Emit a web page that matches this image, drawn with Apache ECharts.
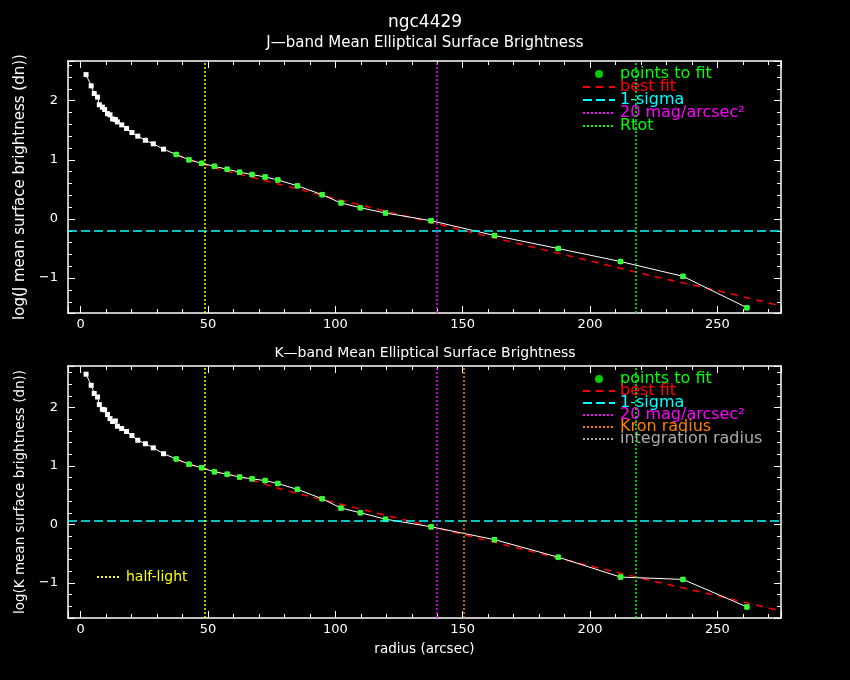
<!DOCTYPE html>
<html>
<head>
<meta charset="utf-8">
<script src="https://cdn.jsdelivr.net/npm/echarts@6/dist/echarts.min.js"></script>
<style>
  html, body { margin: 0; padding: 0; background: #000; }
  #chart { width: 850px; height: 680px; }
</style>
</head>
<body>
<div id="chart"></div>
<script>
// radii of the isophotes (arcsec), same for both bands
var radii = [2.1, 4.1, 5.3, 6.6, 7.3, 8.5, 9.4, 10.5, 11.5, 12.5, 13.6, 14.4, 16.1, 18.0, 20.1, 22.4, 25.4, 28.5, 32.5,
             37.5, 42.5, 47.5, 52.5, 57.5, 62.4, 67.3, 72.4, 77.4, 85.1, 94.8, 102.2, 109.8, 119.7, 137.6, 162.5, 187.5, 212.0, 236.5, 261.6];
var nInner = 19; // first points are not used in the fit

var jProfile = [2.44, 2.25, 2.12, 2.06, 1.93, 1.89, 1.85, 1.78, 1.76, 1.69, 1.68, 1.64, 1.59, 1.53, 1.46, 1.40, 1.33, 1.27, 1.18,
                1.09, 1.00, 0.94, 0.89, 0.84, 0.79, 0.75, 0.71, 0.66, 0.56, 0.41, 0.27, 0.19, 0.10, -0.03, -0.28, -0.50, -0.72, -0.97, -1.50];
var kProfile = [2.57, 2.38, 2.24, 2.18, 2.05, 1.97, 1.96, 1.88, 1.81, 1.76, 1.77, 1.68, 1.64, 1.59, 1.52, 1.44, 1.38, 1.31, 1.21,
                1.12, 1.03, 0.97, 0.90, 0.86, 0.81, 0.78, 0.75, 0.70, 0.60, 0.44, 0.28, 0.20, 0.09, -0.04, -0.26, -0.56, -0.90, -0.94, -1.41];

// best fit curves
var fitRadii = [37.5, 45, 55, 65, 75, 85, 100, 125, 150, 175, 200, 225, 250, 275];
var jFit = [1.08, 0.97, 0.83, 0.73, 0.62, 0.51, 0.34, 0.075, -0.19, -0.45, -0.71, -0.97, -1.21, -1.47];
var kFit = [1.11, 1.00, 0.88, 0.79, 0.65, 0.53, 0.37, 0.10, -0.17, -0.44, -0.71, -0.97, -1.22, -1.48];

// reference levels / radii
var jSigma = -0.20;
var kSigma = 0.07;
var halfLight = 48.8;
var mag20 = 139.7;
var kronRadius = 150.3;
var rTot = 217.8;

var FONT = 'DejaVu Sans';
var GREEN = '#00ff00', RED = '#ff0000', CYAN = '#00ffff', MAGENTA = '#ff00ff',
    YELLOW = '#ffff00', ORANGE = '#ff8000', GREY = '#aaaaaa';
var DOTS = [2, 2];

function pairs(xs, ys, from, to) {
    var out = [];
    for (var i = from; i < to; i++) out.push([xs[i], ys[i]]);
    return out;
}
function minus(v) { return String(v).replace('-', '\u2212'); }

function xAxis(grid, pos, showLabel, name) {
    return {
        type: 'value', gridIndex: grid, position: pos, min: -5, max: 275,
        name: name || '', nameLocation: 'middle', nameGap: 24,
        nameTextStyle: { color: '#fff', fontSize: 13.5, fontFamily: FONT },
        axisLine: { onZero: false, lineStyle: { color: '#fff', width: 1.5 } },
        axisTick: { inside: true, length: 7, lineStyle: { color: '#fff' } },
        minorTick: { show: true, splitNumber: 5, length: 4, lineStyle: { color: '#fff' } },
        axisLabel: { show: showLabel, color: '#fff', fontSize: 13, fontFamily: FONT, margin: 5,
                     showMinLabel: false, showMaxLabel: false },
        splitLine: { show: false }
    };
}
function yAxis(grid, pos, min, max, showLabel, name, nameSize, nameGap) {
    return {
        type: 'value', gridIndex: grid, position: pos, min: min, max: max,
        name: name || '', nameLocation: 'middle', nameGap: nameGap || 40,
        nameTextStyle: { color: '#fff', fontSize: nameSize || 15, fontFamily: FONT },
        axisLine: { onZero: false, lineStyle: { color: '#fff', width: 1.5 } },
        axisTick: { inside: true, length: 7, lineStyle: { color: '#fff' } },
        minorTick: { show: true, splitNumber: 5, length: 4, lineStyle: { color: '#fff' } },
        axisLabel: { show: showLabel, color: '#fff', fontSize: 13, fontFamily: FONT, margin: 10,
                     showMinLabel: false, showMaxLabel: false, formatter: minus },
        splitLine: { show: false }
    };
}
function refLine(name, grid, color, dash, mark) {
    return {
        name: name, type: 'line', xAxisIndex: grid * 2, yAxisIndex: grid * 2, data: [],
        symbol: 'none', lineStyle: { color: color, type: dash, width: 1.5 }, itemStyle: { color: color },
        markLine: mark == null ? undefined : {
            silent: true, symbol: ['none', 'none'], label: { show: false },
            lineStyle: { color: color, type: dash, width: 1.5 },
            data: [mark]
        }
    };
}
function bandSeries(grid, profile, fit, sigma, extra) {
    var s = [
        { name: 'best fit', type: 'line', xAxisIndex: grid * 2, yAxisIndex: grid * 2,
          data: pairs(fitRadii, fit, 0, fitRadii.length), symbol: 'none', z: 2,
          lineStyle: { color: RED, type: [7, 6], width: 1.5 }, itemStyle: { color: RED } },
        { name: 'profile', type: 'line', xAxisIndex: grid * 2, yAxisIndex: grid * 2,
          data: pairs(radii, profile, 0, radii.length), symbol: 'rect', symbolSize: 5, z: 3,
          lineStyle: { color: '#fff', width: 1 }, itemStyle: { color: '#fff' } },
        { name: 'points to fit', type: 'scatter', xAxisIndex: grid * 2, yAxisIndex: grid * 2,
          data: pairs(radii, profile, nInner, radii.length), symbol: 'circle', symbolSize: 6, z: 4,
          itemStyle: { color: GREEN } },
        refLine('1-sigma', grid, CYAN, [9, 4], { yAxis: sigma }),
        refLine('20 mag/arcsec\u00b2', grid, MAGENTA, DOTS, { xAxis: mag20 }),
        refLine('half-light', grid, YELLOW, DOTS, { xAxis: halfLight })
    ];
    return s.concat(extra);
}
function legendItem(name, color, icon) {
    var it = { name: name, textStyle: { color: color } };
    if (icon) it.icon = icon;
    else it.itemStyle = { opacity: 0 }; // line only, no marker
    return it;
}

var myChart = echarts.init(document.getElementById('chart'));
var option = {
    backgroundColor: '#000',
    animation: false,
    title: [
        { text: 'ngc4429', left: 'center', top: 14, padding: 0,
          textStyle: { color: '#fff', fontSize: 17, fontWeight: 'normal', fontFamily: FONT } },
        { text: 'J\u2014band Mean Elliptical Surface Brightness', left: 'center', top: 36, padding: 0,
          textStyle: { color: '#fff', fontSize: 15, fontWeight: 'normal', fontFamily: FONT } },
        { text: 'K\u2014band Mean Elliptical Surface Brightness', left: 'center', top: 346, padding: 0,
          textStyle: { color: '#fff', fontSize: 14, fontWeight: 'normal', fontFamily: FONT } }
    ],
    grid: [
        { left: 68, top: 61, width: 713, height: 252 },
        { left: 68, top: 366, width: 713, height: 252 }
    ],
    xAxis: [
        xAxis(0, 'bottom', true), xAxis(0, 'top', false),
        xAxis(1, 'bottom', true, 'radius (arcsec)'), xAxis(1, 'top', false)
    ],
    yAxis: [
        yAxis(0, 'left', -1.59, 2.67, true, 'log(J mean surface brightness (dn))', 15, 38),
        yAxis(0, 'right', -1.59, 2.67, false),
        yAxis(1, 'left', -1.6, 2.71, true, 'log(K mean surface brightness (dn))', 13.5, 32),
        yAxis(1, 'right', -1.6, 2.71, false)
    ],
    legend: [
        { left: 582, top: 66, orient: 'vertical', padding: 0, itemGap: -3, itemWidth: 32, itemHeight: 8,
          selectedMode: false,
          textStyle: { fontSize: 16, fontFamily: FONT },
          data: [legendItem('points to fit', GREEN, 'circle'), legendItem('best fit', RED),
                 legendItem('1-sigma', CYAN), legendItem('20 mag/arcsec\u00b2', MAGENTA),
                 legendItem('Rtot', GREEN)] },
        { left: 582, top: 371, orient: 'vertical', padding: 0, itemGap: -4, itemWidth: 32, itemHeight: 8,
          selectedMode: false,
          textStyle: { fontSize: 16, fontFamily: FONT },
          data: [legendItem('points to fit', GREEN, 'circle'), legendItem('best fit', RED),
                 legendItem('1-sigma', CYAN), legendItem('20 mag/arcsec\u00b2', MAGENTA),
                 legendItem('Kron radius', ORANGE), legendItem('integration radius', GREY)] },
        { left: 96, top: 570, orient: 'vertical', padding: 0, itemWidth: 24, itemHeight: 10,
          selectedMode: false,
          textStyle: { fontSize: 14, fontFamily: FONT },
          data: [legendItem('half-light', YELLOW)] }
    ],
    series: [].concat(
        bandSeries(0, jProfile, jFit, jSigma, [
            refLine('Rtot', 0, GREEN, DOTS, { xAxis: rTot })
        ]),
        bandSeries(1, kProfile, kFit, kSigma, [
            refLine('Kron radius', 1, ORANGE, DOTS, { xAxis: kronRadius }),
            refLine('Rtot', 1, GREEN, DOTS, { xAxis: rTot }),
            refLine('integration radius', 1, GREY, DOTS, null)
        ])
    )
};
myChart.setOption(option);
</script>
</body>
</html>
